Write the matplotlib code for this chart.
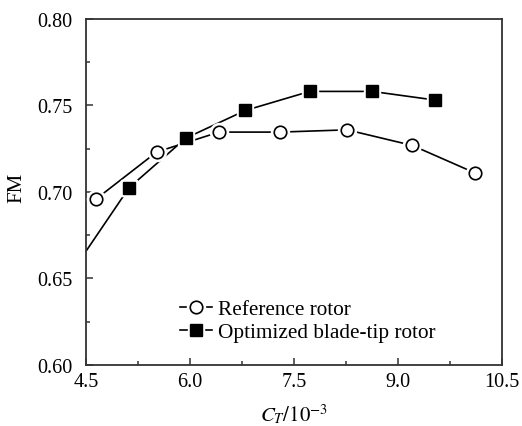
import matplotlib
matplotlib.use('Agg')
import matplotlib.pyplot as plt
from matplotlib.ticker import MultipleLocator

plt.rcParams['font.family'] = ['Liberation Serif', 'DejaVu Serif']
plt.rcParams['mathtext.fontset'] = 'stix'

# ===== data =====
ct_ref = [4.65, 5.52, 6.42, 7.30, 8.27, 9.21, 10.11]
fm_ref = [0.696, 0.723, 0.7345, 0.7345, 0.7358, 0.7268, 0.711]

# first point lies outside the axes (line enters from the left spine)
ct_opt = [4.25, 5.12, 5.94, 6.80, 7.73, 8.63, 9.54]
fm_opt = [0.651, 0.7023, 0.731, 0.747, 0.758, 0.758, 0.753]

fig = plt.figure(figsize=(5.22, 4.27), dpi=100)
ax = fig.add_axes([0.1648, 0.1429, 0.7962, 0.811])

lw = 1.2
# lines first, then a white halo, then the marker -> gap around each marker
l1, = ax.plot(ct_ref, fm_ref, color='black', linewidth=lw, zorder=2)
h1, = ax.plot(ct_ref, fm_ref, linestyle='none', marker='o', markersize=13,
              markerfacecolor='white', markeredgecolor='white', zorder=3)
m1, = ax.plot(ct_ref, fm_ref, linestyle='none', marker='o', markersize=9,
              markerfacecolor='white', markeredgecolor='black', markeredgewidth=1.2, zorder=4)

l2, = ax.plot(ct_opt, fm_opt, color='black', linewidth=lw, zorder=2)
h2, = ax.plot(ct_opt, fm_opt, linestyle='none', marker='s', markersize=12,
              markerfacecolor='white', markeredgecolor='white', zorder=3)
m2, = ax.plot(ct_opt, fm_opt, linestyle='none', marker='s', markersize=8,
              markerfacecolor='black', markeredgecolor='black', zorder=4)

ax.set_xlim(4.5, 10.5)
ax.set_ylim(0.60, 0.80)
ax.xaxis.set_major_locator(MultipleLocator(1.5))
ax.xaxis.set_minor_locator(MultipleLocator(0.75))
ax.yaxis.set_major_locator(MultipleLocator(0.05))
ax.yaxis.set_minor_locator(MultipleLocator(0.025))
ax.xaxis.set_major_formatter(plt.FormatStrFormatter('%.1f'))
ax.yaxis.set_major_formatter(plt.FormatStrFormatter('%.2f'))

ax.tick_params(which='both', direction='in', top=False, right=False,
               labelsize=14.5, color='#333333')
ax.tick_params(which='major', length=5, width=1.1)
ax.tick_params(axis='x', which='major', pad=5)
ax.tick_params(axis='y', which='major', pad=10)
ax.tick_params(which='minor', length=3, width=1.1)
for s in ax.spines.values():
    s.set_linewidth(1.3)
    s.set_color('#333333')

ax.set_xlabel(r'$C_T/10^{-3}$', fontsize=15, labelpad=8)
fig.text(17 / 522, 0.56, 'FM', rotation=90, ha='center', va='center', fontsize=15)

ax.legend([(l1, h1, m1), (l2, h2, m2)],
          ['Reference rotor', 'Optimized blade-tip rotor'],
          loc='lower left', bbox_to_anchor=(0.226, 0.065), frameon=False,
          fontsize=15.3, handlelength=1.5, handletextpad=0.3, borderpad=0,
          borderaxespad=0, labelspacing=0.15)

fig.savefig('out.png', dpi=100)
